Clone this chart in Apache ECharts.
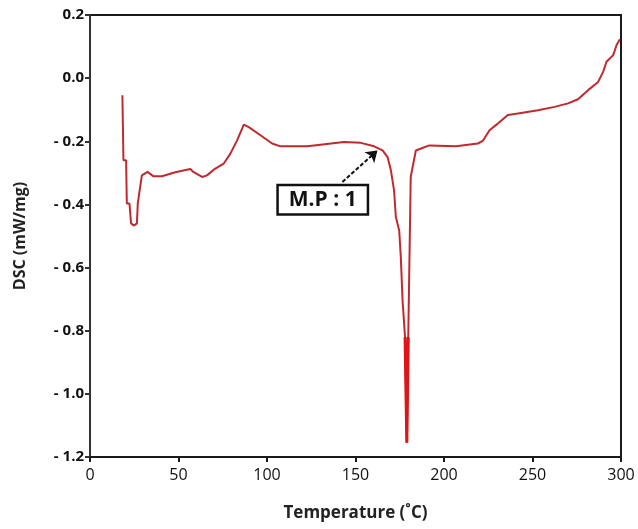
<!DOCTYPE html>
<html>
<head>
<meta charset="utf-8">
<script src="https://cdn.jsdelivr.net/npm/echarts@6/dist/echarts.min.js"></script>
<style>
  html, body { margin: 0; padding: 0; background: #fff; }
  #chart { width: 638px; height: 529px; }
</style>
</head>
<body>
<div id="chart"></div>
<script>
// temperature (°C) and DSC signal (mW/mg)
const temp = [18.3, 18.9, 20.4, 20.8, 22.3, 23.2, 24.9, 26.5, 27.0, 28.3, 29.3, 32.5, 35.9, 40.6,
  48.2, 56.7, 58.4, 63.3, 66.1, 69.9, 75.5, 79.3, 83.1, 86.9, 89.7, 96.3, 102.9, 107.6, 122.8,
  143.5, 153.0, 160.5, 165.3, 168.1, 170.0, 171.8, 172.8, 174.7, 175.6, 176.6, 178.0, 179.0,
  179.8, 181.2, 184.1, 187.0, 191.7, 206.8, 219.1, 221.9, 225.7, 230.4, 236.1, 241.8, 253.1,
  262.5, 270.1, 275.7, 281.4, 287.1, 289.9, 291.8, 295.6, 297.5, 299.4];
const dsc = [-0.054, -0.26, -0.26, -0.397, -0.397, -0.46, -0.467, -0.46, -0.397, -0.346, -0.308,
  -0.297, -0.311, -0.311, -0.298, -0.288, -0.297, -0.313, -0.308, -0.29, -0.271, -0.239, -0.197,
  -0.147, -0.155, -0.181, -0.207, -0.216, -0.216, -0.202, -0.205, -0.216, -0.229, -0.25, -0.292,
  -0.356, -0.44, -0.483, -0.567, -0.705, -0.821, -1.155, -0.821, -0.313, -0.229, -0.223, -0.213,
  -0.216, -0.207, -0.199, -0.165, -0.144, -0.117, -0.112, -0.102, -0.091, -0.08, -0.067, -0.038,
  -0.012, 0.02, 0.052, 0.073, 0.105, 0.123];

// melting point annotation
const mpLabel = 'M.P : 1';
const mpBox = [131.5, -0.385];
const mpArrow = [[142.6, -0.329], [162.4, -0.229]];

const font = '"Open Sans", "Noto Sans", sans-serif';

let points = temp.map((t, i) => [t, dsc[i]]);
// the deepest part of the melting peak is drawn thicker and brighter
let spike = points.filter(p => p[1] <= -0.8);

let option = {
  animation: false,
  backgroundColor: '#fff',
  grid: {
    left: 90, right: 17, top: 15, bottom: 72,
    show: true,
    borderColor: '#1a1a1a',
    borderWidth: 2
  },
  xAxis: {
    type: 'value',
    min: 0, max: 300, interval: 50,
    name: 'Temperature (˚C)',
    nameLocation: 'middle',
    nameGap: 48,
    nameTextStyle: { fontFamily: font, fontSize: 17, fontWeight: 'bold', color: '#222' },
    axisLine: { onZero: false, lineStyle: { color: '#1a1a1a', width: 2 } },
    axisTick: { show: true, length: 5, lineStyle: { color: '#1a1a1a', width: 2 } },
    axisLabel: { fontFamily: font, fontSize: 16, color: '#111', margin: 10 },
    splitLine: { show: false }
  },
  yAxis: {
    type: 'value',
    min: -1.2, max: 0.2, interval: 0.2,
    name: 'DSC (mW/mg)',
    nameLocation: 'middle',
    nameGap: 62,
    nameTextStyle: { fontFamily: font, fontSize: 16, fontWeight: 'bold', color: '#222' },
    axisLine: { lineStyle: { color: '#333', width: 2 } },
    axisTick: { show: true, length: 5, lineStyle: { color: '#333', width: 2 } },
    axisLabel: {
      fontFamily: font, fontSize: 15, fontWeight: 'bold', color: '#111', margin: 6,
      formatter: v => {
        if (Math.abs(v) < 1e-9) return '0.0';
        return v > 0 ? v.toFixed(1) : '- ' + Math.abs(v).toFixed(1);
      }
    },
    splitLine: { show: false }
  },
  series: [
    {
      type: 'line',
      data: points,
      showSymbol: false,
      lineStyle: { color: '#c02a2e', width: 2 },
      markLine: {
        silent: true,
        symbol: ['none', 'arrow'],
        symbolSize: 11,
        lineStyle: { color: '#111', width: 2, type: [4, 2] },
        label: { show: false },
        data: [[{ coord: mpArrow[0] }, { coord: mpArrow[1] }]]
      },
      markPoint: {
        silent: true,
        symbolSize: 0,
        data: [{ coord: mpBox, value: mpLabel }],
        label: {
          show: true,
          position: 'inside',
          formatter: mpLabel,
          fontFamily: font,
          fontSize: 21,
          fontWeight: 'bold',
          color: '#111',
          backgroundColor: '#fff',
          borderColor: '#111',
          borderWidth: 2.5,
          padding: [4, 10, 2, 10]
        }
      }
    },
    {
      type: 'line',
      data: spike,
      showSymbol: false,
      lineStyle: { color: '#e01418', width: 3 }
    }
  ]
};

let mychart = echarts.init(document.getElementById('chart'));
mychart.setOption(option);
</script>
</body>
</html>
